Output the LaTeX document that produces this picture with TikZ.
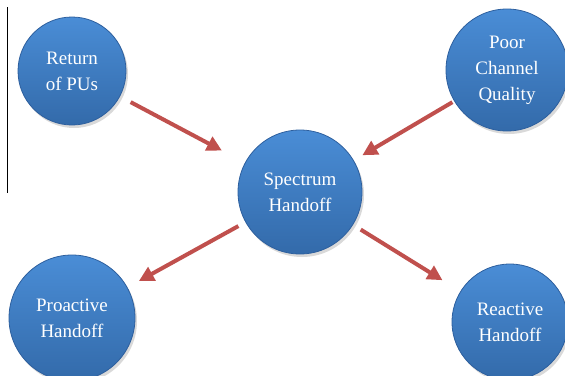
\documentclass[tikz,border=0pt]{standalone}
\usepackage{fontspec}
\setmainfont{Liberation Serif}
\usetikzlibrary{arrows.meta,shadows}
\definecolor{orbfill}{HTML}{3C7DC8}
\definecolor{orbtop}{HTML}{4A8DD6}
\definecolor{orbrim}{HTML}{2D5F9E}
\definecolor{arrred}{HTML}{C0504D}

\begin{document}
\begin{tikzpicture}[x=1pt,y=-1pt,
  orb/.style={circle,draw=orbrim,line width=0.8pt,top color=orbtop,bottom color=orbfill!85!black,
              text=white,align=center,font=\fontsize{19}{26}\selectfont,inner sep=0pt,
              drop shadow={opacity=0.3,shadow xshift=2pt,shadow yshift=-3pt}},
  arr/.style={-{Triangle[length=15pt,width=15pt]},line width=4pt,draw=arrred}]

\useasboundingbox (0,0) rectangle (565,375);

\node[orb,minimum size=108pt] (ret)  at (72,71)   {Return\\of PUs};
\node[orb,minimum size=122pt] (poor) at (507,70)  {Poor\\Channel\\Quality};
\node[orb,minimum size=124pt] (spec) at (300,192) {Spectrum\\Handoff};
\node[orb,minimum size=126pt] (pro)  at (72,318)  {Proactive\\Handoff};
\node[orb,minimum size=116pt] (rea)  at (510,322) {Reactive\\Handoff};

\draw[arr,shorten <=12pt,shorten >=26pt] (ret) -- (spec);
\draw[arr,shorten <=2pt,shorten >=10pt] (poor) -- (spec);
\draw[arr,shorten <=8pt,shorten >=13pt] (spec) -- (pro);
\draw[arr,shorten <=9pt,shorten >=21pt] (spec) -- (rea);

% rule on the left
\draw[line width=0.8pt] (7,7) -- (7,193);
\end{tikzpicture}
\end{document}
